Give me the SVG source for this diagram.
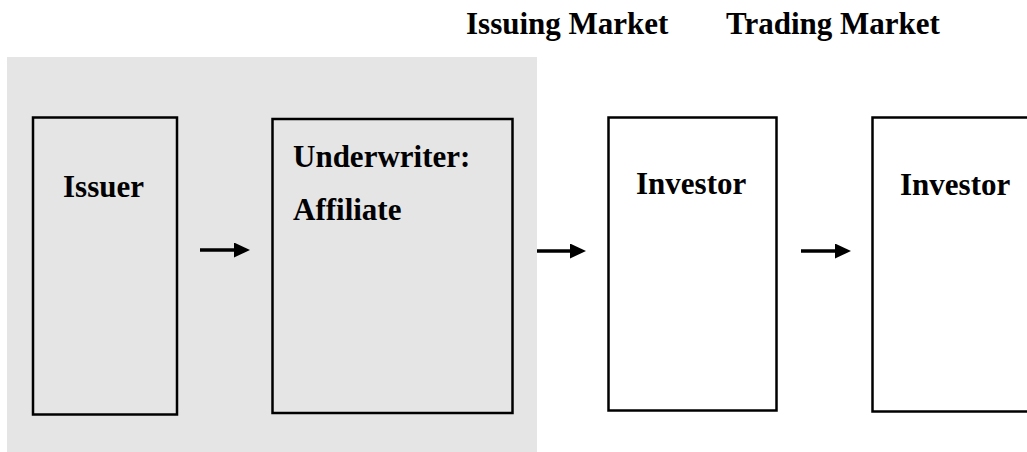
<svg xmlns="http://www.w3.org/2000/svg" width="1027" height="452" viewBox="0 0 1027 452">
  <style>
    .lbl { font-family: "Liberation Serif", "Times New Roman", serif; font-weight: bold; font-size: 31px; fill: #000; }
    .box { fill: none; stroke: #000; stroke-width: 2.5; }
    .box-w { fill: #fff; stroke: #000; stroke-width: 2.5; }
    .arr { stroke: #000; stroke-width: 3.5; fill: none; }
  </style>
  <defs>
    <marker id="head" markerUnits="userSpaceOnUse" markerWidth="16" markerHeight="16" refX="1" refY="7.5" orient="auto">
      <path d="M0,0 L16,7.5 L0,15 z" fill="#000"/>
    </marker>
  </defs>

  <rect width="1027" height="452" fill="#fff"/>

  <!-- shaded issuing area -->
  <rect id="issuing-zone" x="7" y="57" width="530" height="395" fill="#e5e5e5"/>

  <text class="lbl" x="466" y="34">Issuing Market</text>
  <text class="lbl" x="726" y="34">Trading Market</text>

  <g id="issuer">
    <rect class="box" x="33" y="117.5" width="144" height="297"/>
    <text class="lbl" x="63" y="197">Issuer</text>
  </g>

  <g id="underwriter">
    <rect class="box" x="272.5" y="119" width="240" height="294"/>
    <text class="lbl" x="293" y="167">Underwriter:</text>
    <text class="lbl" x="293" y="220">Affiliate</text>
  </g>

  <g id="investor-1">
    <rect class="box-w" x="608.5" y="117.5" width="168" height="293"/>
    <text class="lbl" x="636" y="194">Investor</text>
  </g>

  <g id="investor-2">
    <rect class="box-w" x="872.5" y="117.5" width="170" height="294"/>
    <text class="lbl" x="900" y="195">Investor</text>
  </g>

  <g id="connectors">
    <line class="arr" x1="200" y1="250" x2="235" y2="250" marker-end="url(#head)"/>
    <line class="arr" x1="537" y1="251" x2="571" y2="251" marker-end="url(#head)"/>
    <line class="arr" x1="801" y1="251" x2="836" y2="251" marker-end="url(#head)"/>
  </g>
</svg>
